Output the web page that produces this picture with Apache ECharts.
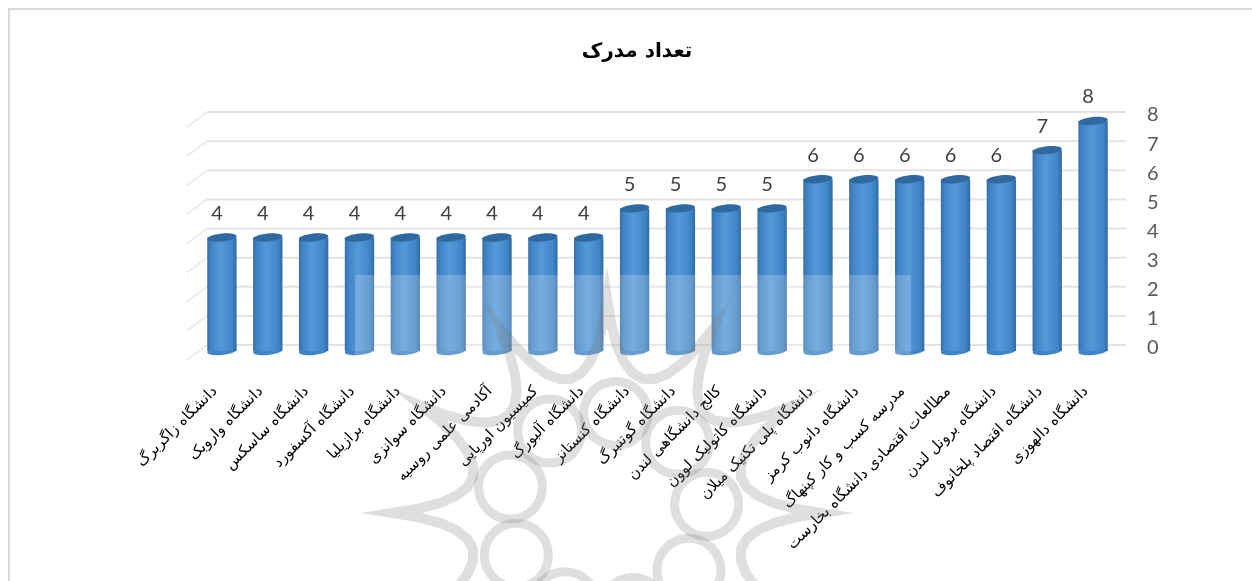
<!DOCTYPE html>
<html>
<head>
<meta charset="utf-8">
<style>
html, body { margin: 0; padding: 0; background: #fff; }
#chart { width: 1252px; height: 581px; }
</style>
<script src="https://cdn.jsdelivr.net/npm/echarts@6/dist/echarts.min.js"></script>
</head>
<body>
<div id="chart"></div>
<script>
var categories = [
  'دانشگاه زاگربرگ', 'دانشگاه واروبک', 'دانشگاه ساسکس', 'دانشگاه آکسفورد',
  'دانشگاه برازیلیا', 'دانشگاه سوانزی', 'آکادمی علمی روسیه', 'کمیسیون اورپایی',
  'دانشگاه آلبورگ', 'دانشگاه کنستانز', 'دانشگاه گوتنبرگ', 'کالج دانشگاهی لندن',
  'دانشگاه کاتولیک لوون', 'دانشگاه پلی تکنیک میلان', 'دانشگاه دانوب کرمز',
  'مدرسه کسب و کار کپنهاگ', 'مطالعات اقتصادی دانشگاه بخارست', 'دانشگاه برونل لندن',
  'دانشگاه اقتصاد پلخانوف', 'دانشگاه دالهوزی'
];
var values = [4, 4, 4, 4, 4, 4, 4, 4, 4, 5, 5, 5, 5, 6, 6, 6, 6, 6, 7, 8];
var yTicks = [0, 1, 2, 3, 4, 5, 6, 7, 8];
var titleText = 'تعداد مدرک';

var persianFont = '"DejaVu Sans", "Noto Sans", sans-serif';
var digitFont = 'Lato, "Open Sans", sans-serif';

// watermark rosette, sits on top of the bars like in the original
function rosette() {
  var cx = 607, cy = 513, grey = 'rgba(120,120,120,0.24)';
  var items = [];
  var pts = [];
  for (var i = 0; i < 12; i++) {
    var a = i * Math.PI / 6, mid = a + Math.PI / 12, next = a + Math.PI / 6;
    for (var t = 0; t < 1; t += 0.1) {
      var u = 1 - t;
      pts.push([
        cx + u * u * 215 * Math.cos(a) + 2 * u * t * 70 * Math.cos(mid) + t * t * 215 * Math.cos(next),
        cy + u * u * 215 * Math.sin(a) + 2 * u * t * 70 * Math.sin(mid) + t * t * 215 * Math.sin(next)
      ]);
    }
  }
  items.push({
    type: 'polygon', z: 5, silent: true,
    shape: { points: pts },
    style: { fill: 'none', stroke: grey, lineWidth: 10, lineJoin: 'miter', miterLimit: 12 }
  });
  for (var k = 0; k < 9; k++) {
    var b = (165 + 40 * k) * Math.PI / 180;
    items.push({
      type: 'circle', z: 5, silent: true,
      shape: { cx: cx + 100 * Math.cos(b), cy: cy - 100 * Math.sin(b), r: 32 },
      style: { fill: 'none', stroke: grey, lineWidth: 9 }
    });
  }
  return items;
}

var chart = echarts.init(document.getElementById('chart'));
chart.setOption({
  animation: false,
  backgroundColor: '#fff',
  title: {
    text: titleText,
    left: 632, top: 37, textAlign: 'center',
    textStyle: { fontFamily: persianFont, fontSize: 20, fontWeight: 'bold', color: '#000' }
  },
  grid: { left: 199, right: 136, top: 112, height: 233 },
  xAxis: {
    type: 'category',
    data: categories,
    axisLine: { show: false },
    axisTick: { show: false },
    axisLabel: {
      interval: 0, rotate: 45, margin: 37, padding: [0, 10, 0, 0],
      fontFamily: persianFont, fontSize: 15, color: '#000'
    }
  },
  yAxis: {
    type: 'value',
    position: 'right',
    min: 0, max: 8, interval: 1,
    axisLine: { show: false },
    axisTick: { show: false },
    splitLine: { show: false },
    axisLabel: {
      margin: 31, verticalAlign: 'top', lineHeight: 6, fontFamily: digitFont, fontSize: 20, color: '#595959',
      formatter: function (v) { return yTicks.indexOf(v) >= 0 ? String(v) : ''; }
    }
  },
  graphic: [
    { type: 'line', z: 0, silent: true, shape: { x1: 8, y1: 9, x2: 1252, y2: 9 },
      style: { stroke: '#d9d9d9', lineWidth: 2 } },
    { type: 'line', z: 0, silent: true, shape: { x1: 9, y1: 8, x2: 9, y2: 581 },
      style: { stroke: '#d9d9d9', lineWidth: 2 } },
    { type: 'rect', z: 5, silent: true, shape: { x: 355, y: 275, width: 556, height: 90 },
      style: { fill: 'rgba(255,255,255,0.2)' } }
  ].concat(rosette()),
  series: [
    {
      // back wall and side wall lines of the 3D frame
      type: 'custom',
      coordinateSystem: 'cartesian2d',
      z: 1,
      silent: true,
      data: yTicks.map(function (t) { return [0, t]; }),
      renderItem: function (params, api) {
        var y = api.coord([0, api.value(1)])[1];
        return {
          type: 'group',
          children: [
            { type: 'line', shape: { x1: 207, y1: y, x2: 1126, y2: y },
              style: { stroke: '#e6e3df', lineWidth: 2, fill: 'none' } },
            { type: 'line', shape: { x1: 187, y1: y + 15, x2: 207, y2: y },
              style: { stroke: '#ececec', lineWidth: 2, fill: 'none' } }
          ]
        };
      }
    },
    {
      type: 'custom',
      coordinateSystem: 'cartesian2d',
      z: 2,
      data: values.map(function (v, i) { return [i, v]; }),
      encode: { x: 0, y: 1 },
      renderItem: function (params, api) {
        var top = api.coord([api.value(0), api.value(1)]);
        var base = api.coord([api.value(0), 0]);
        var w = api.size([1, 0])[0] * 0.64;
        var x = top[0] - w / 2;
        var drop = 9; // the bars stand in front of the back wall
        var yTop = top[1] + drop, yBase = base[1] + drop - 3;
        var body = new echarts.graphic.LinearGradient(0, 0, 1, 0, [
          { offset: 0, color: '#346fa8' },
          { offset: 0.12, color: '#3f84c6' },
          { offset: 0.45, color: '#5599d8' },
          { offset: 0.85, color: '#3f85c7' },
          { offset: 1, color: '#33699f' }
        ]);
        return {
          type: 'group',
          children: [
            { type: 'ellipse', shape: { cx: top[0], cy: yBase, rx: w / 2, ry: 4 },
              rotation: 0.1, originX: top[0], originY: yBase, style: { fill: '#3f84c6' } },
            { type: 'rect', shape: { x: x, y: yTop, width: w, height: yBase - yTop }, style: { fill: body } },
            { type: 'ellipse', shape: { cx: top[0], cy: yTop, rx: w / 2, ry: 4 },
              rotation: 0.1, originX: top[0], originY: yTop, style: { fill: '#2f699f' } },
            { type: 'text', x: top[0] - 5, y: yTop - 14,
              style: { text: String(api.value(1)), fontFamily: digitFont, fontSize: 20,
                fill: '#404040', align: 'center', verticalAlign: 'bottom' } }
          ]
        };
      }
    }
  ]
});
</script>
</body>
</html>
